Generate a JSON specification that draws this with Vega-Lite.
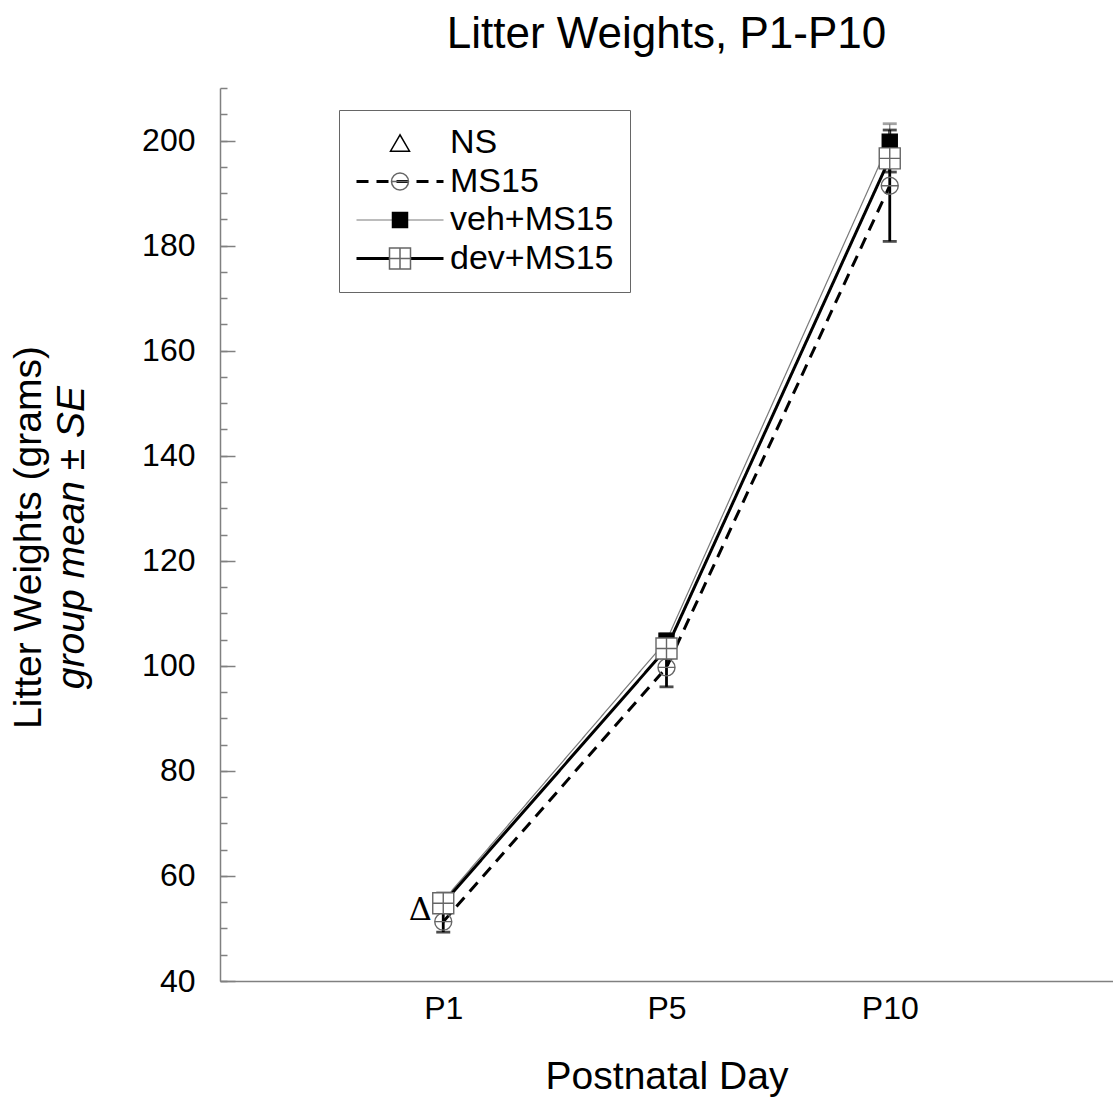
{
  "$schema": "https://vega.github.io/schema/vega-lite/v6.json",
  "width": 893,
  "height": 893,
  "autosize": {"type": "none"},
  "padding": {"left": 220, "top": 88, "right": 0, "bottom": 125},
  "background": "white",
  "title": {"text": "Litter Weights, P1-P10", "fontSize": 44, "font": "Liberation Sans", "fontWeight": "normal", "color": "black", "anchor": "middle", "frame": "group", "offset": 30},
  "config": {"view": {"stroke": null}, "font": "Liberation Sans"},
  "data": {"values": [
    {"series": "NS", "day": "P1", "mean": 53.5},
    {"series": "MS15", "day": "P1", "mean": 51.3, "lo": 49.3, "hi": 53.3},
    {"series": "MS15", "day": "P5", "mean": 99.7, "lo": 96.0, "hi": 103.4},
    {"series": "MS15", "day": "P10", "mean": 191.4, "lo": 180.8, "hi": 202.0},
    {"series": "veh+MS15", "day": "P1", "mean": 55.3, "lo": 53.8, "hi": 56.8},
    {"series": "veh+MS15", "day": "P5", "mean": 104.8, "lo": 103.3, "hi": 106.1},
    {"series": "veh+MS15", "day": "P10", "mean": 199.8, "lo": 196.4, "hi": 203.2},
    {"series": "dev+MS15", "day": "P1", "mean": 54.8, "lo": 53.3, "hi": 56.3},
    {"series": "dev+MS15", "day": "P5", "mean": 103.3, "lo": 101.5, "hi": 105.1},
    {"series": "dev+MS15", "day": "P10", "mean": 196.6, "lo": 194.0, "hi": 199.2}
  ]},
  "encoding": {
    "x": {"field": "day", "type": "ordinal", "scale": {"type": "point", "padding": 1, "domain": ["P1", "P5", "P10"]},
      "axis": {"labelFontSize": 32, "labelFont": "Liberation Sans", "labelColor": "black", "labelAngle": 0, "labelPadding": 12, "ticks": false, "domainColor": "#808080", "domainWidth": 1.5, "grid": false, "title": "Postnatal Day", "titleFontSize": 39, "titleFont": "Liberation Sans", "titleFontWeight": "normal", "titleColor": "black", "titlePadding": 33}}
  },
  "resolve": {"axis": {"y": "independent"}},
  "layer": [
    {
      "mark": {"type": "line"},
      "encoding": {
        "y": {"field": "mean", "type": "quantitative", "scale": {"domain": [40, 210], "nice": false, "zero": false},
          "axis": {"orient": "left", "values": [40, 60, 80, 100, 120, 140, 160, 180, 200], "labelFontSize": 32, "labelFont": "Liberation Sans", "labelColor": "black", "tickSize": -15, "labelPadding": 40, "tickColor": "#808080", "tickWidth": 1.5, "domainColor": "#808080", "domainWidth": 1.5, "grid": false, "title": "Litter Weights (grams)", "titleFontSize": 39, "titleFont": "Liberation Sans", "titleFontWeight": "normal", "titleColor": "black", "titleX": -192, "titleY": 449, "titleBaseline": "middle", "titleAngle": 270}},
        "color": {"field": "series", "type": "nominal",
          "scale": {"domain": ["NS", "MS15", "veh+MS15", "dev+MS15"], "range": ["black", "black", "#7a7a7a", "black"]},
          "legend": {"orient": "none", "legendX": 119, "legendY": 22, "title": null, "symbolType": "stroke", "symbolSize": 7569, "labelFontSize": 34, "labelFont": "Liberation Sans", "labelColor": "black", "labelOffset": 5, "labelLimit": 400, "padding": 16, "rowPadding": 4.5, "strokeColor": "#666666", "encode": {"symbols": {"update": {"y": {"value": 17}}}, "labels": {"update": {"y": {"value": 17}}}}}},
        "strokeDash": {"field": "series", "type": "nominal",
          "scale": {"domain": ["NS", "MS15", "veh+MS15", "dev+MS15"], "range": [[1, 0], [12, 8], [1, 0], [1, 0]]},
          "legend": {"orient": "none", "legendX": 119, "legendY": 22, "title": null, "symbolType": "stroke", "symbolSize": 7569, "labelFontSize": 34, "labelFont": "Liberation Sans", "labelColor": "black", "labelOffset": 5, "labelLimit": 400, "padding": 16, "rowPadding": 4.5, "strokeColor": "#666666", "encode": {"symbols": {"update": {"y": {"value": 17}}}, "labels": {"update": {"y": {"value": 17}}}}}},
        "strokeWidth": {"field": "series", "type": "nominal",
          "scale": {"type": "ordinal", "domain": ["NS", "MS15", "veh+MS15", "dev+MS15"], "range": [0, 3, 1.2, 3]},
          "legend": {"orient": "none", "legendX": 119, "legendY": 22, "title": null, "symbolType": "stroke", "symbolSize": 7569, "labelFontSize": 34, "labelFont": "Liberation Sans", "labelColor": "black", "labelOffset": 5, "labelLimit": 400, "padding": 16, "rowPadding": 4.5, "strokeColor": "#666666", "encode": {"symbols": {"update": {"y": {"value": 17}}}, "labels": {"update": {"y": {"value": 17}}}}}}
      }
    },
    {
      "transform": [{"filter": "datum.series !== 'NS'"}],
      "mark": {"type": "rule"},
      "encoding": {
        "y": {"field": "lo", "type": "quantitative",
          "axis": {"orient": "left", "values": [40, 45, 50, 55, 60, 65, 70, 75, 80, 85, 90, 95, 100, 105, 110, 115, 120, 125, 130, 135, 140, 145, 150, 155, 160, 165, 170, 175, 180, 185, 190, 195, 200, 205, 210], "labels": false, "domain": false, "tickSize": -7, "tickColor": "#808080", "tickWidth": 1.5, "grid": false, "title": "group mean ± SE", "titleFontStyle": "italic", "titleFontSize": 39, "titleFont": "Liberation Sans", "titleFontWeight": "normal", "titleColor": "black", "titleX": -149, "titleY": 449, "titleBaseline": "middle", "titleAngle": 270}},
        "y2": {"field": "hi"},
        "color": {"condition": {"test": "datum.series === 'veh+MS15'", "value": "#7a7a7a"}, "value": "black"},
        "strokeWidth": {"condition": {"test": "datum.series === 'veh+MS15'", "value": 1.2}, "value": 2.8}
      }
    },
    {
      "transform": [{"filter": "datum.series !== 'NS'"}],
      "mark": {"type": "tick", "size": 14, "thickness": 2.8},
      "encoding": {
        "y": {"field": "lo", "type": "quantitative", "axis": null},
        "color": {"condition": {"test": "datum.series === 'veh+MS15'", "value": "#7a7a7a"}, "value": "black"}
      }
    },
    {
      "transform": [{"filter": "datum.series !== 'NS'"}],
      "mark": {"type": "tick", "size": 14, "thickness": 2.8},
      "encoding": {
        "y": {"field": "hi", "type": "quantitative", "axis": null},
        "color": {"condition": {"test": "datum.series === 'veh+MS15'", "value": "#7a7a7a"}, "value": "black"}
      }
    },
    {
      "mark": {"type": "point", "filled": true, "strokeWidth": 1.4},
      "encoding": {
        "y": {"field": "mean", "type": "quantitative", "axis": null},
        "shape": {"field": "series", "type": "nominal", "sort": null,
          "scale": {"range": ["triangle-up", "M-1,0A1,1,0,1,1,1,0A1,1,0,1,1,-1,0ZM-1,0L1,0", "square", "M-1,-1L1,-1L1,1L-1,1ZM0,-1L0,1M-1,0L1,0"]},
          "legend": {"orient": "none", "legendX": 147, "legendY": 22, "title": null, "labelFontSize": 34, "labelFont": "Liberation Sans", "labelColor": "transparent", "labelExpr": "' '", "labelOffset": 5, "padding": 16, "rowPadding": 4.5}},
        "fill": {"field": "series", "type": "nominal", "sort": null,
          "scale": {"range": ["transparent", "transparent", "black", "white"]},
          "legend": {"orient": "none", "legendX": 147, "legendY": 22, "title": null, "labelFontSize": 34, "labelFont": "Liberation Sans", "labelColor": "transparent", "labelExpr": "' '", "labelOffset": 5, "padding": 16, "rowPadding": 4.5}},
        "stroke": {"field": "series", "type": "nominal", "sort": null,
          "scale": {"range": ["black", "#666666", "black", "#666666"]},
          "legend": {"orient": "none", "legendX": 147, "legendY": 22, "title": null, "labelFontSize": 34, "labelFont": "Liberation Sans", "labelColor": "transparent", "labelExpr": "' '", "labelOffset": 5, "padding": 16, "rowPadding": 4.5}},
        "size": {"field": "series", "type": "nominal", "sort": null,
          "scale": {"type": "ordinal", "range": [361, 289, 225, 441]},
          "legend": {"orient": "none", "legendX": 147, "legendY": 22, "title": null, "labelFontSize": 34, "labelFont": "Liberation Sans", "labelColor": "transparent", "labelExpr": "' '", "labelOffset": 5, "padding": 16, "rowPadding": 4.5}},
        "opacity": {"condition": {"test": "datum.series === 'NS'", "value": 0}, "value": 1}
      }
    },
    {
      "transform": [{"filter": "datum.series === 'NS'"}],
      "mark": {"type": "text", "text": "Δ", "font": "DejaVu Serif", "fontSize": 32, "dx": -23, "align": "center", "baseline": "middle", "color": "black"},
      "encoding": {
        "y": {"field": "mean", "type": "quantitative", "axis": null}
      }
    }
  ]
}
